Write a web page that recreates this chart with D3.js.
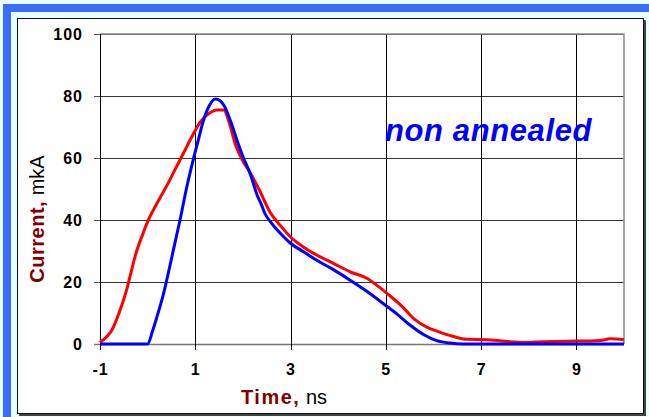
<!DOCTYPE html>
<html>
<head>
<meta charset="utf-8">
<script src="https://cdn.jsdelivr.net/npm/d3@7"></script>
<style>
  html, body { margin: 0; padding: 0; background: #e8ffff; }
  svg { display: block; }
  text { font-family: "Liberation Sans", Arial, sans-serif; }
</style>
</head>
<body>
<svg id="chart" width="649" height="417"></svg>
<script>
// Current pulse, non annealed sample
const redTime = [-1.0,-0.85,-0.75,-0.6,-0.45,-0.35,-0.25,-0.1,0.0,0.2,0.4,0.6,0.8,0.95,1.1,1.3,1.45,1.6,1.7,1.85,2.0,2.15,2.35,2.57,2.8,3.0,3.3,3.55,3.9,4.25,4.6,4.85,5.05,5.35,5.6,5.85,6.1,6.4,6.7,7.1,7.5,7.9,8.3,8.8,9.3,9.55,9.7,9.85,10.0];
const redCurrent = [0.5,2.5,4.5,10,17,23,29,35.5,39.5,45.5,51,57,63,67.5,71.5,74.5,75.5,75.5,72,64,59,55.3,49.5,42.5,38,34.5,31,28.7,26,23.3,21.2,18.5,16,12,8,5.5,4,2.5,1.5,1.4,0.9,0.5,0.7,0.9,1.0,1.2,1.7,1.6,1.4];

const blueTime = [-1.0,0.0,0.1,0.2,0.33,0.45,0.55,0.68,0.82,0.95,1.05,1.17,1.3,1.42,1.52,1.62,1.75,1.87,2.0,2.15,2.3,2.4,2.45,2.6,2.8,3.0,3.3,3.55,3.9,4.25,4.6,4.95,5.25,5.5,5.8,6.07,6.35,6.6,10.0];
const blueCurrent = [0,0,4,9,16,24,31,40,50.5,59,65,72,77,79,78.5,76.5,71.5,66,60.5,55,48,44.5,42.5,39,35.5,32.5,29.5,27,24,20.6,17,13,9.5,6.2,3,1.1,0.3,0,0];

const xTicks = [-1, 1, 3, 5, 7, 9];
const yTicks = [0, 20, 40, 60, 80, 100];

const svg = d3.select("#chart");

// page decoration: blue edge and framed white panel
svg.append("rect").attr("x", 0).attr("y", 0).attr("width", 649).attr("height", 417).attr("fill", "#e8ffff");
svg.append("rect").attr("x", 3).attr("y", 4).attr("width", 646).attr("height", 8).attr("fill", "#3c6cff");
svg.append("rect").attr("x", 3).attr("y", 4).attr("width", 8).attr("height", 413).attr("fill", "#3c6cff");
svg.append("rect").attr("x", 17.5).attr("y", 18.5).attr("width", 626).attr("height", 395)
  .attr("fill", "#ffffff").attr("stroke", "#111").attr("stroke-width", 1);
svg.append("path").attr("d", "M645,20V415H19").attr("fill", "none").attr("stroke", "#444").attr("stroke-width", 2);

const x = d3.scaleLinear().domain([-1, 10]).range([100, 624]);
const y = d3.scaleLinear().domain([0, 100]).range([344, 34]);

// horizontal grid
const hGrid = svg.append("g").attr("transform", `translate(${x(-1)},0)`)
  .call(d3.axisLeft(y).tickValues(yTicks.slice(1)).tickSize(-(x(10) - x(-1))).tickFormat(""));
hGrid.select(".domain").remove();
hGrid.selectAll("line").attr("stroke", "#333").attr("shape-rendering", "crispEdges");

// vertical grid
const vGrid = svg.append("g").attr("transform", `translate(0,${y(0)})`)
  .call(d3.axisBottom(x).tickValues(xTicks.slice(1)).tickSize(-(y(0) - y(100))).tickFormat(""));
vGrid.select(".domain").remove();
vGrid.selectAll("line").attr("stroke", "#000").attr("shape-rendering", "crispEdges");

// plot border top/right
svg.append("path").attr("d", `M${x(-1)},${y(100)}H${x(10)}V${y(0)}`)
  .attr("fill", "none").attr("stroke", "#8a8a8a").attr("stroke-width", 1.5);

// y axis
const yAxis = svg.append("g").attr("transform", `translate(${x(-1)},0)`)
  .call(d3.axisLeft(y).tickValues(yTicks).tickSize(6).tickPadding(11).tickFormat(d => String(d)));
yAxis.select(".domain").attr("stroke", "#000").attr("shape-rendering", "crispEdges");
yAxis.selectAll("line").attr("stroke", "#555").attr("shape-rendering", "crispEdges");
yAxis.selectAll("text").attr("font-size", 16).attr("font-weight", "bold").attr("fill", "#000")
  .attr("letter-spacing", "1px").attr("font-family", "Liberation Sans, Arial, sans-serif");

// x axis
const xAxis = svg.append("g").attr("transform", `translate(0,${y(0)})`)
  .call(d3.axisBottom(x).tickValues(xTicks).tickSize(6).tickPadding(14).tickFormat(d => String(d)));
xAxis.select(".domain").attr("stroke", "#777").attr("stroke-width", 1.5).attr("d", `M${x(-1) - 6},0.5H${x(10)}`);
xAxis.selectAll("line").attr("stroke", "#000").attr("shape-rendering", "crispEdges");
xAxis.selectAll("text").attr("font-size", 16).attr("font-weight", "bold").attr("fill", "#000")
  .attr("letter-spacing", "1px").attr("font-family", "Liberation Sans, Arial, sans-serif");

// curves
const line = d3.line().x(d => x(d[0])).y(d => y(d[1])).curve(d3.curveMonotoneX);
const redData = redTime.map((t, i) => [t, redCurrent[i]]);
const blueData = blueTime.map((t, i) => [t, blueCurrent[i]]);

svg.append("path").datum(redData).attr("d", line)
  .attr("fill", "none").attr("stroke", "#ff0000").attr("stroke-width", 3).attr("stroke-linejoin", "round");
svg.append("path").datum(blueData).attr("d", line)
  .attr("fill", "none").attr("stroke", "#0000ff").attr("stroke-width", 3).attr("stroke-linejoin", "round");

// annotation
svg.append("text").attr("x", 385).attr("y", 141)
  .attr("font-size", 31).attr("font-weight", "bold").attr("font-style", "italic")
  .attr("letter-spacing", "0.6px").attr("fill", "#0000ff").text("non annealed");

// axis titles
const xt = svg.append("text").attr("x", 284).attr("y", 404).attr("text-anchor", "middle").attr("font-size", 20);
xt.append("tspan").attr("font-weight", "bold").attr("fill", "#800000").attr("letter-spacing", "1.5px").text("Time,");
xt.append("tspan").attr("fill", "#000").text(" ns");

const yt = svg.append("text").attr("transform", "translate(44,219) rotate(-90)")
  .attr("text-anchor", "middle").attr("font-size", 20);
yt.append("tspan").attr("font-weight", "bold").attr("fill", "#800000").attr("letter-spacing", "0.5px").text("Current,");
yt.append("tspan").attr("fill", "#000").text(" mkA");
</script>
</body>
</html>
